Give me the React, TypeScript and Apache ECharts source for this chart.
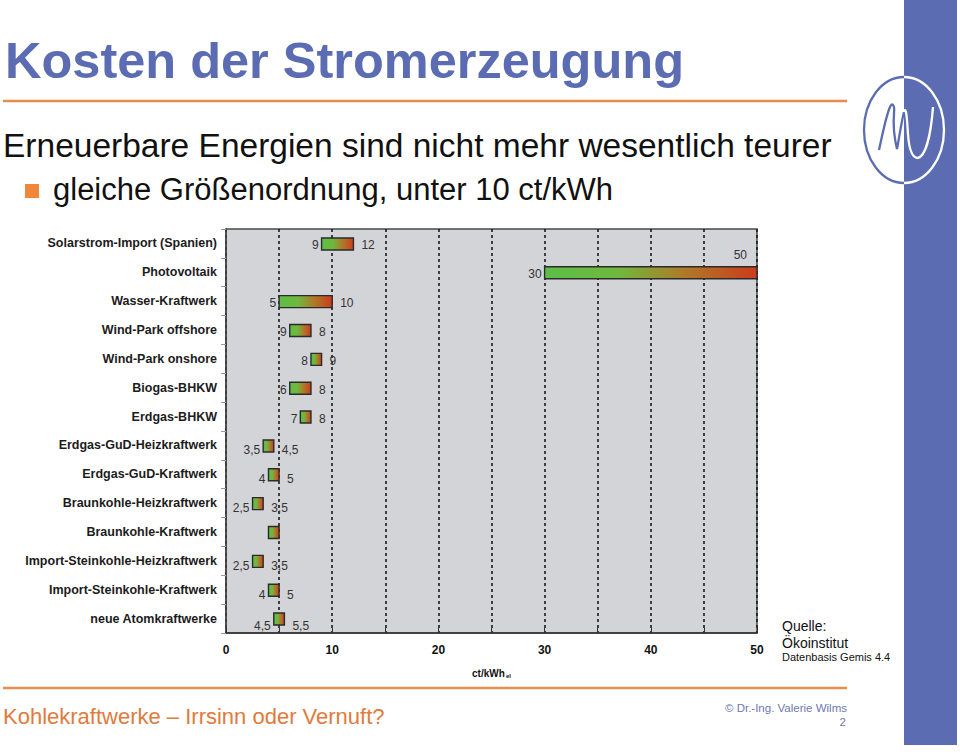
import React, { useEffect, useRef } from 'react';
import * as echarts from 'echarts';

const categories = [
  'Solarstrom-Import (Spanien)',
  'Photovoltaik',
  'Wasser-Kraftwerk',
  'Wind-Park offshore',
  'Wind-Park onshore',
  'Biogas-BHKW',
  'Erdgas-BHKW',
  'Erdgas-GuD-Heizkraftwerk',
  'Erdgas-GuD-Kraftwerk',
  'Braunkohle-Heizkraftwerk',
  'Braunkohle-Kraftwerk',
  'Import-Steinkohle-Heizkraftwerk',
  'Import-Steinkohle-Kraftwerk',
  'neue Atomkraftwerke',
];
const lowValues = [9, 30, 5, 6, 8, 6, 7, 3.5, 4, 2.5, 4, 2.5, 4, 4.5];
const highValues = [12, 50, 10, 8, 9, 8, 8, 4.5, 5, 3.5, 5, 3.5, 5, 5.5];
const lowLabels = ['9', '30', '5', '9', '8', '6', '7', '3,5', '4', '2,5', '', '2,5', '4', '4,5'];
const highLabels = ['12', '50', '10', '8', '9', '8', '8', '4,5', '5', '3,5', '', '3,5', '5', '5,5'];
const xTicks = [0, 10, 20, 30, 40, 50];

// layout-only: vertical shift of the value labels per row (px)
const labelShiftY = [1.5, 1.5, 1.5, 1.5, 1.5, 1.5, 2, 4, 4.5, 4.5, 0, 4.5, 5, 6.5];

const FONT = '"Liberation Sans", Arial, Helvetica, sans-serif';
const BLUE = '#5b6cb3';
const ORANGE = '#e88b4c';

const dBlue =
  'M904 77 A40 53 0 0 0 904 183 ' +
  'M879 150 C883 132 886 116 890 107 C892 102 895 105 894 113 C893 126 895 141 897 149 C899 139 901 124 904 112';
const dWhite =
  'M904 77 A40 53 0 0 1 904 183 ' +
  'M904 112 C906 105 907 118 908 134 C909 149 912 158 918 158 C926 156 931 133 933 107';
echarts.graphic.registerShape('logoBlue', echarts.graphic.extendPath(dBlue, {}));
echarts.graphic.registerShape('logoWhite', echarts.graphic.extendPath(dWhite, {}));

const barGradient = () =>
  new echarts.graphic.LinearGradient(0, 0, 1, 0, [
    { offset: 0, color: '#5cbe48' },
    { offset: 0.35, color: '#70b83e' },
    { offset: 0.65, color: '#ad7b2a' },
    { offset: 1, color: '#cc3b1d' },
  ]);

const GRID_LEFT = 226;
const GRID_RIGHT_X = 757;

const seriesData = categories.map((_, i) => [i, lowValues[i], highValues[i]]);

const txt = (text: string, x: number, y: number, fontSize: number, fill: string, extra: any = {}) => ({
  type: 'text',
  x,
  y,
  silent: true,
  style: {
    text,
    fontSize,
    fontFamily: FONT,
    fill,
    align: 'left',
    verticalAlign: 'middle',
    ...extra,
  },
});

const option: any = {
  animation: false,
  backgroundColor: '#ffffff',
  grid: {
    left: GRID_LEFT,
    right: 960 - GRID_RIGHT_X,
    top: 229,
    bottom: 756 - 633,
    show: true,
    backgroundColor: '#d3d4d8',
    borderColor: '#4a4a4a',
    borderWidth: 1.5,
    containLabel: false,
  },
  xAxis: {
    type: 'value',
    min: 0,
    max: 50,
    interval: 5,
    axisLine: { show: true, lineStyle: { color: '#333', width: 1.5 } },
    axisTick: { show: true, inside: true, length: 5, lineStyle: { color: '#333' } },
    axisLabel: {
      margin: 11,
      fontFamily: FONT,
      fontWeight: 'bold',
      fontSize: 12,
      color: '#111',
      formatter: (v: number) => (xTicks.includes(v) ? String(v) : ''),
    },
    splitLine: { show: true, lineStyle: { color: '#1a1a1a', type: [3, 3], width: 1.6 } },
  },
  yAxis: {
    type: 'category',
    data: categories,
    inverse: true,
    axisLine: { show: true, lineStyle: { color: '#444', width: 1.5 } },
    axisTick: { show: true, length: 5, lineStyle: { color: '#999' } },
    axisLabel: {
      margin: 9,
      fontFamily: FONT,
      fontWeight: 'bold',
      fontSize: 12.5,
      color: '#1c1c1c',
    },
    splitLine: { show: false },
  },
  series: [
    {
      type: 'custom',
      encode: { x: [1, 2], y: 0 },
      data: seriesData,
      clip: false,
      renderItem: (params: any, api: any) => {
        const idx = params.dataIndex;
        const cat = api.value(0);
        const lo = api.value(1);
        const hi = api.value(2);
        const p0 = api.coord([lo, cat]);
        const p1 = api.coord([hi, cat]);
        const h = 12;
        const yc = p0[1] + 0.5;
        const ly = yc + labelShiftY[idx];
        const children: any[] = [
          {
            type: 'rect',
            shape: { x: p0[0], y: yc - h / 2, width: p1[0] - p0[0], height: h },
            style: { fill: barGradient(), stroke: '#2b2b2b', lineWidth: 1.4 },
          },
        ];
        if (lowLabels[idx]) {
          children.push({
            type: 'text',
            style: {
              text: lowLabels[idx],
              x: p0[0] - 3,
              y: ly,
              align: 'right',
              verticalAlign: 'middle',
              fontSize: 12,
              fontFamily: FONT,
              fill: '#333',
            },
          });
        }
        if (highLabels[idx]) {
          const overflow = p1[0] + 30 > GRID_RIGHT_X;
          children.push({
            type: 'text',
            style: overflow
              ? {
                  text: highLabels[idx],
                  x: p1[0] - 10,
                  y: yc - 18,
                  align: 'right',
                  verticalAlign: 'middle',
                  fontSize: 12,
                  fontFamily: FONT,
                  fill: '#333',
                }
              : {
                  text: highLabels[idx],
                  x: p1[0] + 8,
                  y: ly,
                  align: 'left',
                  verticalAlign: 'middle',
                  fontSize: 12,
                  fontFamily: FONT,
                  fill: '#333',
                },
          });
        }
        return { type: 'group', children };
      },
    },
  ],
  graphic: [
    { type: 'rect', silent: true, shape: { x: 904, y: 0, width: 53, height: 745 }, style: { fill: BLUE } },
    { type: 'logoBlue', silent: true, style: { fill: 'none', stroke: BLUE, lineWidth: 2.3 } },
    { type: 'logoWhite', silent: true, style: { fill: 'none', stroke: '#ffffff', lineWidth: 2.3 } },
    txt('Kosten der Stromerzeugung', 5, 60, 50.5, BLUE, {
      fontWeight: 'bold',
      textShadowColor: '#c4c6cf',
      textShadowOffsetX: 3,
      textShadowOffsetY: 3,
      textShadowBlur: 0,
    }),
    { type: 'line', silent: true, shape: { x1: 3, y1: 101, x2: 847, y2: 101 }, style: { stroke: ORANGE, lineWidth: 2.5 } },
    txt('Erneuerbare Energien sind nicht mehr wesentlich teurer', 3, 145, 33.5, '#111'),
    { type: 'rect', silent: true, shape: { x: 25, y: 184, width: 14, height: 14 }, style: { fill: '#f0873a' } },
    txt('gleiche Größenordnung, unter 10 ct/kWh', 53, 189, 31, '#111'),
    txt('ct/kWh', 472, 673, 10, '#111', { fontWeight: 'bold' }),
    txt('el', 506, 676, 6, '#111', { fontWeight: 'bold' }),
    txt('Quelle:', 782, 626, 14, '#111'),
    txt('Ökoinstitut', 782, 643, 14, '#111'),
    txt('Datenbasis Gemis 4.4', 782, 657, 11, '#111'),
    { type: 'line', silent: true, shape: { x1: 3, y1: 688, x2: 847, y2: 688 }, style: { stroke: ORANGE, lineWidth: 2.5 } },
    txt('Kohlekraftwerke – Irrsinn oder Vernuft?', 3, 716, 22, '#e07b3c'),
    txt('© Dr.-Ing. Valerie Wilms', 847, 708, 11.5, '#6f78b2', { align: 'right' }),
    txt('2', 846, 722, 11.5, '#6f78b2', { align: 'right' }),
  ],
};

export default function App() {
  const ref = useRef<HTMLDivElement>(null);
  useEffect(() => {
    document.body.style.margin = '0';
    const chart = echarts.init(ref.current as HTMLDivElement, null, {
      renderer: 'svg',
      width: 960,
      height: 756,
    });
    chart.setOption(option);
    return () => chart.dispose();
  }, []);
  return (
    <div
      ref={ref}
      style={{ position: 'absolute', left: 0, top: 0, width: 960, height: 756, background: '#ffffff' }}
    />
  );
}
